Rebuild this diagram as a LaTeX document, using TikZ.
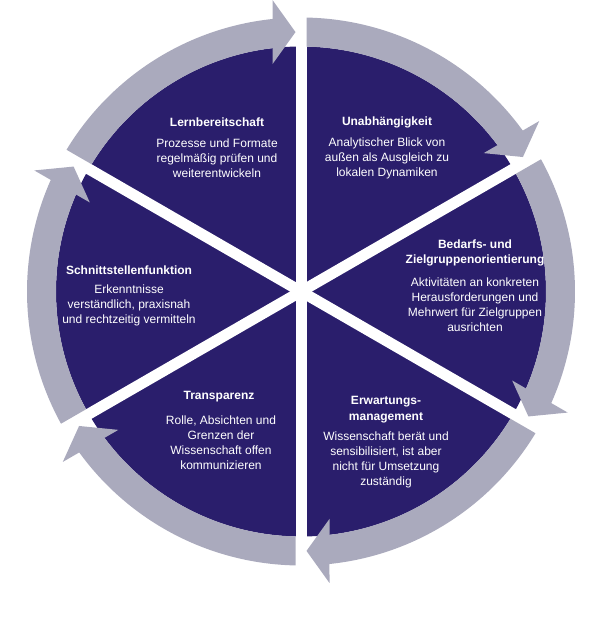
\documentclass[tikz,border=0pt]{standalone}
\usepackage{fontspec}
\setmainfont{Liberation Sans}
\definecolor{navy}{RGB}{42,30,108}
\definecolor{ringgray}{RGB}{170,170,189}
\begin{document}
\begin{tikzpicture}[x=1pt,y=1pt,
  ttl/.style={text=white, font=\fontsize{12}{15.5}\selectfont\bfseries, align=center, inner sep=0pt},
  bdy/.style={text=white, font=\fontsize{12}{15}\selectfont, align=center, inner sep=0pt}]
\useasboundingbox (0,0) rectangle (600,643);
\coordinate (C) at (301,351.5);
\fill[navy] (C) circle[radius=245];
\foreach \a in {90,30,150}
  \draw[white, line width=11pt] ([shift={(\a:250)}]C) -- ([shift={(\a+180:250)}]C);
\foreach \p in {90,30,-30,-90,-150,150}{
  \begin{scope}[shift={(C)}, rotate=\p-60]
    \fill[ringgray] (58.85:274) arc[start angle=58.85, end angle=5.97, radius=274]
      -- (291.5,28.5) -- (259.4,5.5) -- (227.4,28.5) -- (6.68:245)
      arc[start angle=6.68, end angle=58.714, radius=245] -- cycle;
  \end{scope}}
% texts
\node[ttl] (t1) at (217,521) {Lernbereitschaft};
\node[bdy] (b1) at (217,485) {Prozesse und Formate\\regelmäßig prüfen und\\weiterentwickeln};
\node[ttl] (t2) at (387,521) {Unabhängigkeit};
\node[bdy] (b2) at (387,485) {Analytischer Blick von\\außen als Ausgleich zu\\lokalen Dynamiken};
\node[ttl] (t3) at (475,390) {Bedarfs- und\\Zielgruppenorientierung};
\node[bdy] (b3) at (475,338.5) {Aktivitäten an konkreten\\Herausforderungen und\\Mehrwert für Zielgruppen\\ausrichten};
\node[ttl] (t4) at (129,373) {Schnittstellenfunktion};
\node[bdy] (b4) at (129,338) {Erkenntnisse\\verständlich, praxisnah\\und rechtzeitig vermitteln};
\node[ttl] (t5) at (219,246) {Transparenz};
\node[bdy] (b5) at (221,200.5) {Rolle, Absichten und\\Grenzen der\\Wissenschaft offen\\kommunizieren};
\node[ttl] (t6) at (386,233.5) {Erwartungs-\\management};
\node[bdy] (b6) at (386,183.5) {Wissenschaft berät und\\sensibilisiert, ist aber\\nicht für Umsetzung\\zuständig};
\end{tikzpicture}
\end{document}
